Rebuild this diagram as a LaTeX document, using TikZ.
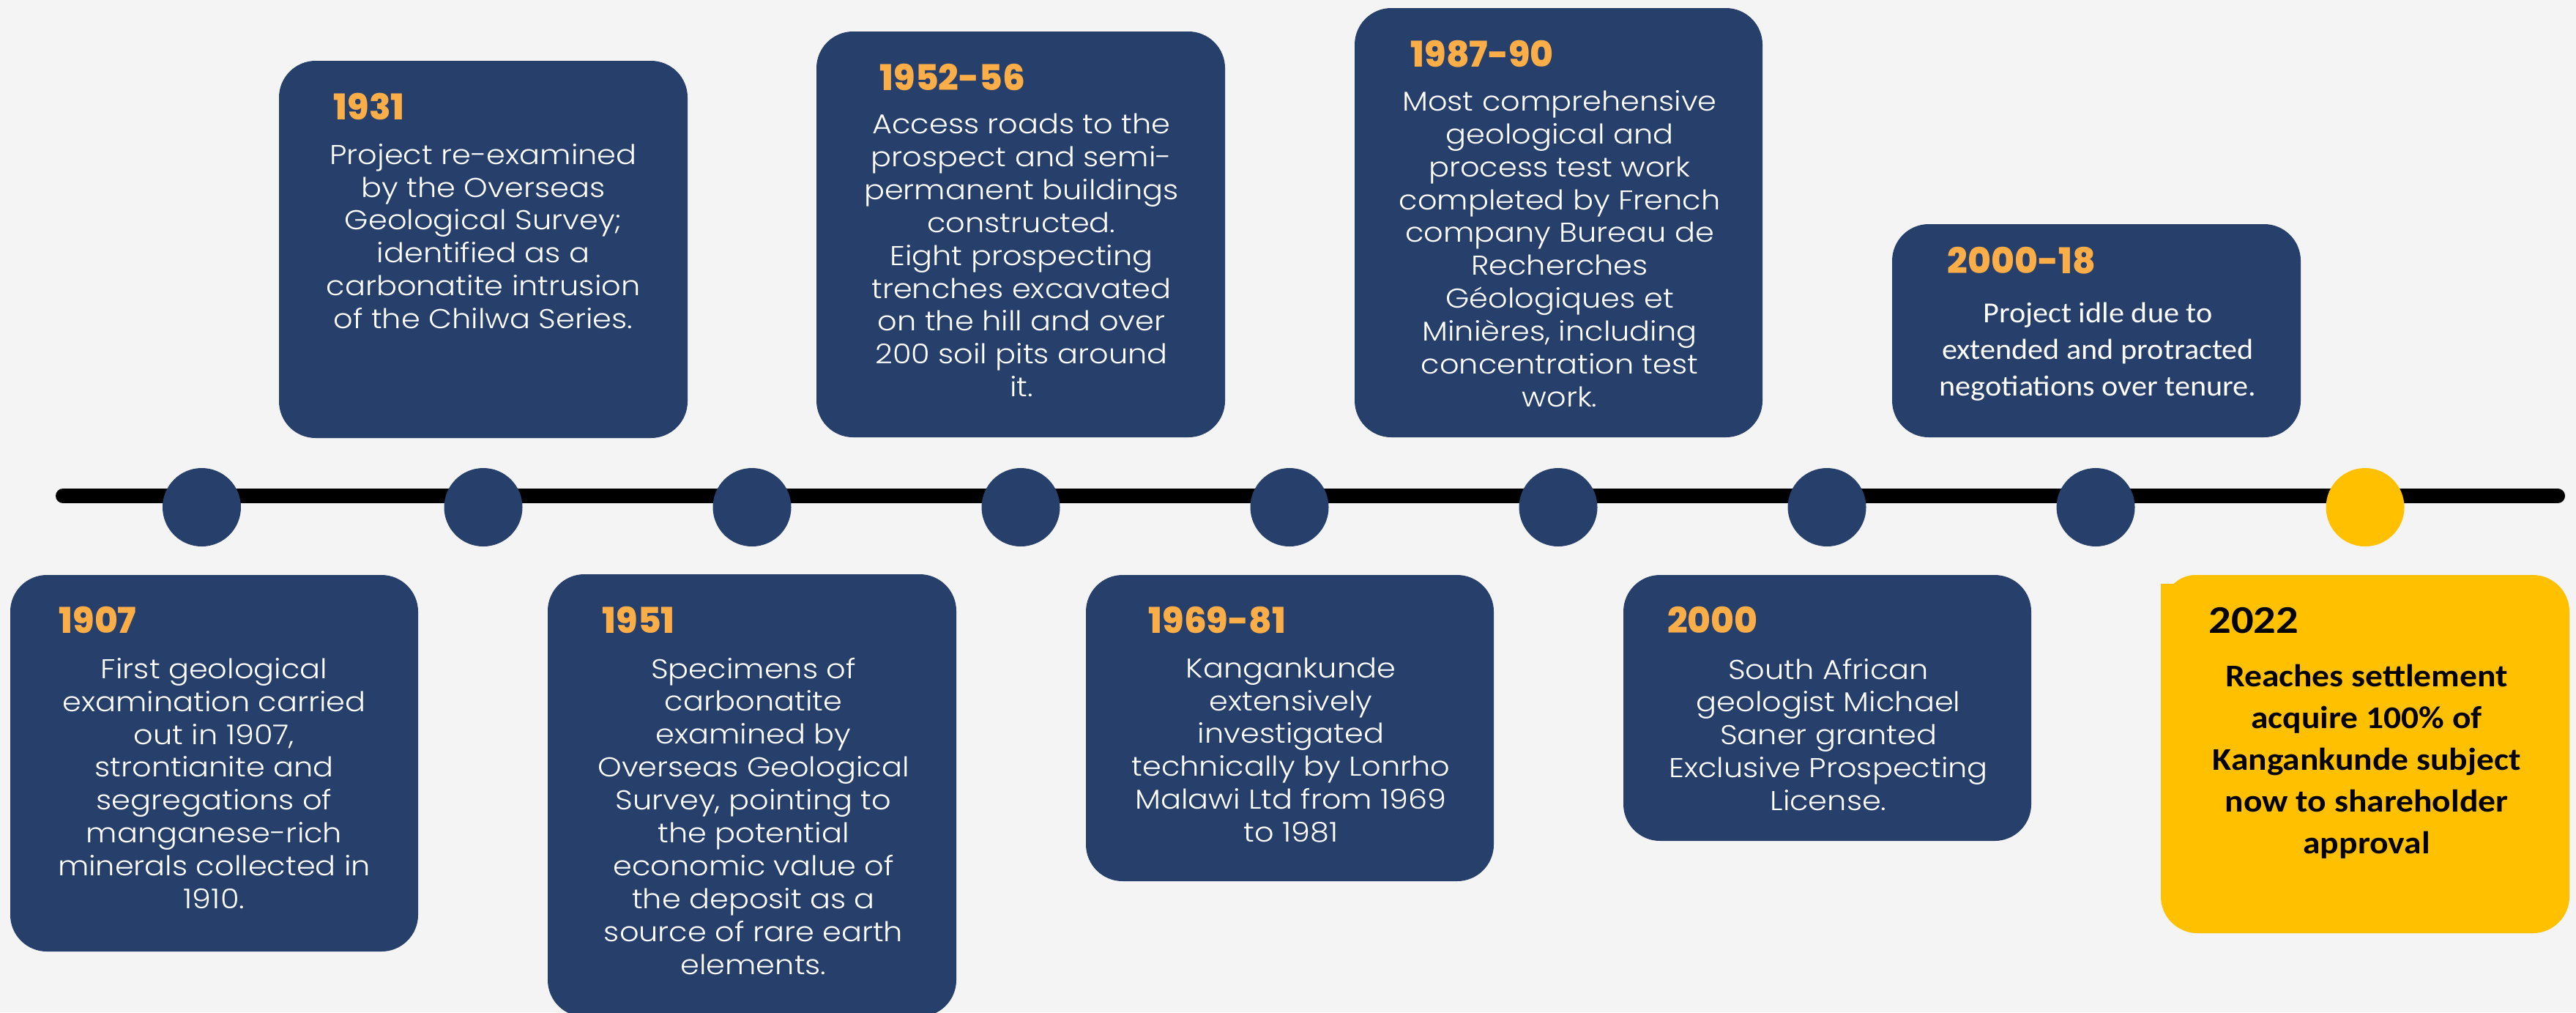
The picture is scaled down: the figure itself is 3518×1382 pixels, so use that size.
\documentclass[tikz,border=0pt]{standalone}
\usepackage{fontspec}
\IfFontExistsTF{Poppins Light}{\newfontfamily\bodyfont{Poppins Light}[FakeStretch=1.115]}{\newfontfamily\bodyfont{Poppins}[FakeStretch=1.115]}
\IfFontExistsTF{Poppins ExtraBold}{\newfontfamily\yearfont{Poppins ExtraBold}}{\newfontfamily\yearfont{Poppins Bold}}
\newfontfamily\calfont{Carlito}[FakeStretch=1.065]
\newfontfamily\calbold{Carlito}[FakeStretch=1.1]
\newfontfamily\calyear{Carlito}[FakeStretch=1.13]
\definecolor{bg}{RGB}{244,244,244}
\definecolor{navy}{RGB}{39,63,107}
\definecolor{orng}{RGB}{251,173,72}
\definecolor{gold}{RGB}{255,192,0}
\tikzset{
  tbox/.style={fill=navy, draw=none, rounded corners=12.5pt, inner sep=0pt},
  ybox/.style={fill=gold, draw=none, rounded corners=12.5pt, inner sep=0pt},
  dot/.style={circle, fill=navy, draw=none, minimum size=26.75pt, inner sep=0pt},
  ydot/.style={dot, fill=gold},
  tline/.style={line width=5pt, line cap=round, draw=black},
  year/.style={anchor=base west, inner sep=0pt, text=orng, font=\yearfont\fontsize{12.15}{14}\selectfont},
  body/.style={anchor=base, inner sep=0pt, align=center, text=white, font=\bodyfont\fontsize{9.3}{11.22}\selectfont},
  calbody/.style={anchor=base, inner sep=0pt, align=center, text=white, font=\calfont\fontsize{9.9}{12.58}\selectfont},
  goldbody/.style={anchor=base, inner sep=0pt, align=center, text=black, font=\calbold\bfseries\fontsize{10.8}{14.25}\selectfont},
}
\begin{document}
\begin{tikzpicture}[x=0.25pt,y=-0.25pt]
\useasboundingbox (0,0) rectangle (3518,1382);
\fill[bg] (0,0) rectangle (3518,1382);
\clip (0,0) rectangle (3518,1382);

% timeline
\coordinate (lstart) at (86,677);
\coordinate (lend) at (3493,677);
\draw[tline] (lstart) -- (lend);

% boxes
\node[tbox, minimum width=557*0.25pt, minimum height=514*0.25pt] (b1907) at (292.5,1042) {};
\node[tbox, minimum width=558*0.25pt, minimum height=515*0.25pt] (b1931) at (660,340.5) {};
\node[tbox, minimum width=558*0.25pt, minimum height=604*0.25pt] (b1951) at (1027,1086) {};
\node[tbox, minimum width=558*0.25pt, minimum height=554*0.25pt] (b1952) at (1394,320) {};
\node[tbox, minimum width=557*0.25pt, minimum height=418*0.25pt] (b1969) at (1761.5,994) {};
\node[tbox, minimum width=557*0.25pt, minimum height=586*0.25pt] (b1987) at (2128.5,304) {};
\node[tbox, minimum width=557*0.25pt, minimum height=363*0.25pt] (b2000) at (2495.5,966.5) {};
\node[tbox, minimum width=558*0.25pt, minimum height=291*0.25pt] (b2018) at (2863,451.5) {};
\node[ybox, minimum width=558*0.25pt, minimum height=489*0.25pt] (b2022) at (3230,1029.5) {};
\fill[gold] (2951,797) -- (2969,797) .. controls (2978,788) and (2988,785) .. (3001,785) -- (3001,840) -- (2951,840) -- cycle;

% dots
\node[dot] (c1) at (275.5,692.5) {};
\node[dot] (c2) at (660,692.5) {};
\node[dot] (c3) at (1027,692.5) {};
\node[dot] (c4) at (1394,692.5) {};
\node[dot] (c5) at (1761,692.5) {};
\node[dot] (c6) at (2128,692.5) {};
\node[dot] (c7) at (2495,692.5) {};
\node[dot] (c8) at (2862,692.5) {};
\node[ydot] (c9) at (3230,692.5) {};

% years
\node[year] (y1907) at (80,864.6) {1907};
\node[year] (y1931) at (455,163.6) {1931};
\node[year] (y1951) at (822,864) {1951};
\node[year] (y1952) at (1201,123.4) {1952-56};
\node[year] (y1969) at (1568,864.3) {1969-81};
\node[year] (y1987) at (1926,91) {1987-90};
\node[year] (y2000) at (2276.5,864) {2000};
\node[year] (y2018) at (2659,373.3) {2000-18};
\node[year, text=black, font=\calyear\bfseries\fontsize{13.4}{15}\selectfont] (y2022) at (3015.5,864.8) {2022};

% texts (anchored at the baseline of the last line)
\node[body] (t1907) at (292.5,1240.4) {First geological\\examination carried\\out in 1907,\\strontianite and\\segregations of\\manganese-rich\\minerals collected in\\1910.};
\node[body] (t1931) at (660,448.6) {Project re-examined\\by the Overseas\\Geological Survey;\\identified as a\\carbonatite intrusion\\of the Chilwa Series.};
\node[body] (t1951) at (1029,1330) {Specimens of\\carbonatite\\examined by\\Overseas Geological\\Survey, pointing to\\the potential\\economic value of\\the deposit as a\\source of rare earth\\elements.};
\node[body] (t1952) at (1395,541.7) {Access roads to the\\prospect and semi-\\permanent buildings\\constructed.\\Eight prospecting\\trenches excavated\\on the hill and over\\200 soil pits around\\it.};
\node[body] (t1969) at (1763,1149.5) {Kangankunde\\extensively\\investigated\\technically by Lonrho\\Malawi Ltd from 1969\\to 1981};
\node[body] (t1987) at (2130,555.3) {Most comprehensive\\geological and\\process test work\\completed by French\\company Bureau de\\Recherches\\Géologiques et\\Minières, including\\concentration test\\work.};
\node[body] (t2000) at (2497,1106.5) {South African\\geologist Michael\\Saner granted\\Exclusive Prospecting\\License.};
\node[calbody] (t2018) at (2865,540.7) {Project idle due to\\extended and protracted\\negotiations over tenure.};
\node[goldbody] (t2022) at (3232,1165.7) {Reaches settlement\\acquire 100\% of\\Kangankunde subject\\now to shareholder\\approval};
\end{tikzpicture}
\end{document}
